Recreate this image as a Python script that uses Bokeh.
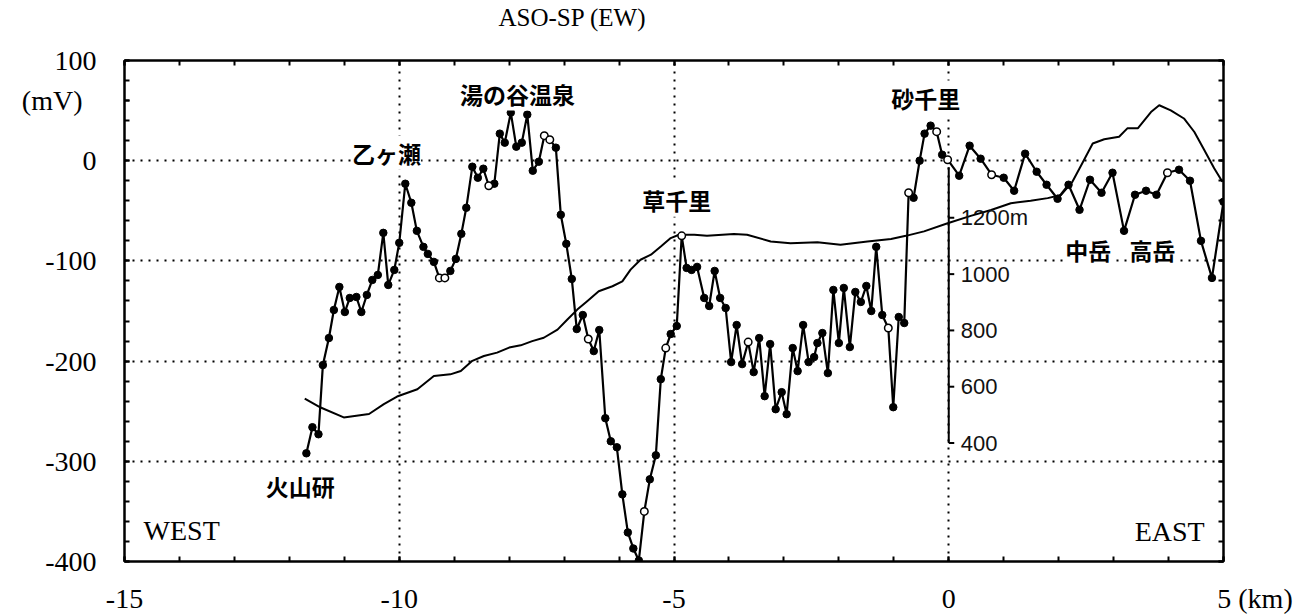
from bokeh.plotting import figure
from bokeh.models import Range1d, LinearAxis, FixedTicker, Label
from bokeh.core.properties import value
from bokeh.embed import file_html
from bokeh.resources import INLINE

# ---------------- data ----------------
# self-potential profile (km, mV)
x_km = [-11.69, -11.58, -11.47, -11.39, -11.28, -11.19, -11.09, -10.99, -10.90, -10.78,
        -10.69, -10.59, -10.49, -10.39, -10.29, -10.20, -10.09, -10.00, -9.89, -9.78,
        -9.68, -9.56, -9.48, -9.37, -9.27, -9.17, -9.07, -8.97, -8.87, -8.78,
        -8.67, -8.57, -8.47, -8.37, -8.27, -8.17, -8.08, -7.97, -7.87, -7.77,
        -7.67, -7.57, -7.46, -7.36, -7.26, -7.15, -7.06, -6.96, -6.86, -6.77,
        -6.66, -6.56, -6.46, -6.36, -6.25, -6.15, -6.04, -5.94, -5.84, -5.74,
        -5.64, -5.54, -5.44, -5.33, -5.24, -5.15, -5.06, -4.95, -4.86, -4.77,
        -4.68, -4.58, -4.45, -4.36, -4.26, -4.16, -4.06, -3.96, -3.86, -3.76,
        -3.65, -3.55, -3.45, -3.35, -3.25, -3.15, -3.04, -2.95, -2.84, -2.75,
        -2.65, -2.55, -2.45, -2.39, -2.30, -2.20, -2.10, -2.00, -1.91, -1.80,
        -1.70, -1.60, -1.50, -1.41, -1.32, -1.21, -1.10, -1.01, -0.91, -0.81,
        -0.73, -0.64, -0.53, -0.44, -0.33, -0.22, -0.12, -0.02, 0.19, 0.38,
        0.58, 0.78, 1.00, 1.19, 1.39, 1.60, 1.78, 1.98, 2.18, 2.38,
        2.57, 2.78, 2.98, 3.19, 3.39, 3.59, 3.78, 3.98, 4.19, 4.39,
        4.59, 4.79, 5.00]
sp_mv = [-292, -266, -273, -204, -177, -149, -126, -151, -137, -136,
         -151, -134, -119, -114, -72, -124, -109, -82, -23, -42,
         -70, -86, -93, -101, -117, -117, -110, -98, -73, -47,
         -6, -17, -8, -25, -23, 27, 18, 48, 14, 18,
         46, -10, -1, 25, 21, 13, -54, -83, -118, -168,
         -154, -178, -190, -169, -257, -280, -286, -333, -371, -387,
         -399, -350, -318, -294, -218, -187, -173, -165, -75, -107,
         -109, -106, -137, -145, -110, -137, -147, -201, -164, -203,
         -181, -211, -177, -235, -183, -248, -231, -253, -187, -210,
         -164, -201, -196, -182, -172, -212, -129, -182, -127, -186,
         -131, -141, -125, -150, -86, -154, -167, -246, -156, -162,
         -32, -37, 0, 27, 35, 29, 6, 1, -15, 15,
         2, -14, -17, -30, 7, -11, -24, -38, -24, -49,
         -19, -32, -12, -70, -34, -30, -34, -12, -9, -20,
         -80, -117, -41]
# 1 = open (hollow) marker, 0 = filled
open_marker = [0, 0, 0, 0, 0, 0, 0, 0, 0, 0,
               0, 0, 0, 0, 0, 0, 0, 0, 0, 0,
               0, 0, 0, 0, 1, 1, 0, 0, 0, 0,
               0, 0, 0, 1, 0, 0, 0, 0, 0, 0,
               0, 0, 0, 1, 1, 0, 0, 0, 0, 0,
               0, 1, 0, 0, 0, 0, 0, 0, 0, 0,
               0, 1, 0, 0, 0, 1, 0, 0, 1, 0,
               0, 0, 0, 0, 0, 0, 0, 0, 0, 0,
               1, 0, 0, 0, 0, 0, 0, 0, 0, 0,
               0, 0, 0, 0, 0, 0, 0, 0, 0, 0,
               0, 0, 0, 0, 0, 0, 1, 0, 0, 0,
               1, 0, 0, 0, 0, 1, 0, 1, 0, 0,
               0, 1, 0, 0, 0, 0, 0, 0, 0, 0,
               0, 0, 0, 0, 0, 0, 0, 1, 0, 0,
               0, 0, 0]

# topographic profile (km, m)
elev_x = [-11.72, -11.43, -11.01, -10.55, -10.28, -10.04, -9.67, -9.37, -9.07, -8.88,
          -8.67, -8.46, -8.22, -8.00, -7.79, -7.58, -7.37, -7.12, -6.94, -6.76,
          -6.58, -6.37, -6.12, -5.94, -5.79, -5.61, -5.42, -5.24, -5.06, -4.91,
          -4.63, -4.40, -3.91, -3.67, -3.24, -2.88, -2.39, -1.97, -1.48, -1.05,
          -0.78, -0.45, -0.02, 0.40, 0.77, 1.13, 1.49, 1.80, 2.04, 2.25,
          2.43, 2.62, 2.83, 3.10, 3.25, 3.44, 3.68, 3.83, 4.04, 4.28,
          4.47, 4.65, 4.83, 4.98]
elev_m = [558, 526, 491, 503, 538, 565, 591, 638, 644, 656,
          692, 709, 721, 739, 747, 762, 774, 803, 839, 874,
          904, 939, 957, 974, 1016, 1051, 1069, 1098, 1128, 1140,
          1140, 1136, 1143, 1140, 1116, 1110, 1113, 1104, 1116, 1125,
          1136, 1152, 1181, 1207, 1228, 1252, 1261, 1270, 1281, 1328,
          1394, 1464, 1479, 1488, 1518, 1518, 1576, 1600, 1582, 1553,
          1505, 1441, 1376, 1328]

x_ticks = [-15, -10, -5, 0, 5]
x_tick_labels = ["-15", "-10", "-5", "0", "\u00a0" * 9 + "5 (km)"]
y_ticks = [-400, -300, -200, -100, 0, 100]
y_tick_labels = ["-400", "-300", "-200", "-100", "0", "100"]
y_unit_pos = 60
y_unit_label = "(mV)" + "\u00a0" * 2
elev_ticks = [400, 600, 800, 1000, 1200]
elev_tick_labels = ["400", "600", "800", "1000", "1200m"]
elev_axis_span = [400, 1380]
elev_axis_x = 0

place_names = ["火山研", "乙ヶ瀬", "湯の谷温泉", "草千里", "砂千里", "中岳", "高岳"]
place_x = [-11.8, -10.23, -7.85, -4.95, -0.42, 2.54, 3.71]
place_y = [-325, 8, 67, -39, 63, -89, -89]

title_text = "ASO-SP (EW)"

# ---------------- figure ----------------
SERIF = "Liberation Serif"
p = figure(width=1315, height=616, output_backend="svg", toolbar_location=None,
           x_range=Range1d(-15, 5), y_range=Range1d(-400, 100),
           min_border_left=124, min_border_right=92, min_border_top=60,
           min_border_bottom=53)
p.extra_y_ranges = {"elev": Range1d(-21, 1759)}
p.background_fill_color = "white"
p.border_fill_color = "white"
p.outline_line_color = "black"
p.outline_line_width = 2

p.title.text = title_text
p.title.text_font = SERIF
p.title.text_font_size = "25px"
p.title.text_font_style = "normal"
p.title.text_color = "black"
p.title.align = "left"
p.title.offset = 374
p.title.vertical_align = "top"
p.title.standoff = 7

xax = p.xaxis[0]
yax = p.yaxis[0]
xax.ticker = FixedTicker(ticks=x_ticks, minor_ticks=list(range(-15, 6)))
xax.major_label_overrides = dict(zip(x_ticks, x_tick_labels))
yax.ticker = FixedTicker(ticks=y_ticks + [y_unit_pos], minor_ticks=list(range(-400, 101, 20)))
yax.major_label_overrides = {**dict(zip(y_ticks, y_tick_labels)), y_unit_pos: y_unit_label}
for ax in (xax, yax):
    ax.major_tick_in = 5
    ax.major_tick_out = 0
    ax.minor_tick_in = 5
    ax.minor_tick_out = 0
    ax.axis_line_width = 2
    ax.major_tick_line_width = 2
    ax.minor_tick_line_width = 2
    ax.major_label_text_font = SERIF
    ax.major_label_text_font_size = "28px"
    ax.major_label_text_color = "black"
xax.major_label_standoff = 21
yax.major_label_standoff = 28

# mirrored tick axes (blank labels)
top = LinearAxis(ticker=FixedTicker(ticks=x_ticks, minor_ticks=list(range(-15, 6))))
right = LinearAxis(ticker=FixedTicker(ticks=y_ticks, minor_ticks=list(range(-400, 101, 20))))
top.major_label_overrides = {t: "\u00a0" for t in x_ticks}
right.major_label_overrides = {t: "" for t in y_ticks}
for ax in (top, right):
    ax.major_tick_in = 5
    ax.major_tick_out = 0
    ax.minor_tick_in = 5
    ax.minor_tick_out = 0
    ax.major_tick_line_width = 2
    ax.minor_tick_line_width = 2
    ax.axis_line_width = 2
    ax.major_label_standoff = 0
    ax.major_label_text_font_size = "1px"
top.major_label_text_font_size = "19px"
top.major_label_standoff = 0
p.add_layout(top, "above")
p.add_layout(right, "right")

p.xgrid.ticker = FixedTicker(ticks=[-10, -5, 0])
p.ygrid.ticker = FixedTicker(ticks=[-300, -200, -100, 0])
for g in (p.xgrid[0], p.ygrid[0]):
    g.grid_line_color = "black"
    g.grid_line_width = 2
    g.grid_line_dash = "2 6"
    g.grid_line_alpha = 1.0

# elevation profile and its axis
p.line(elev_x, elev_m, y_range_name="elev", line_color="black", line_width=2)
p.segment(x0=[elev_axis_x], y0=[elev_axis_span[0]], x1=[elev_axis_x], y1=[elev_axis_span[1]],
          y_range_name="elev", line_color="black", line_width=2)
p.segment(x0=[elev_axis_x] * len(elev_ticks), y0=elev_ticks,
          x1=[elev_axis_x + 0.1] * len(elev_ticks), y1=elev_ticks,
          y_range_name="elev", line_color="black", line_width=2)
p.text(x=[elev_axis_x] * len(elev_ticks), y=elev_ticks, text=elev_tick_labels,
       y_range_name="elev", x_offset=12, text_align="left", text_baseline="middle",
       text_font=value("Liberation Sans"), text_font_size="22px", text_color="#111111")

# SP profile
p.line(x_km, sp_mv, line_color="black", line_width=2.2)
fx = [x for x, o in zip(x_km, open_marker) if not o]
fy = [y for y, o in zip(sp_mv, open_marker) if not o]
ox = [x for x, o in zip(x_km, open_marker) if o]
oy = [y for y, o in zip(sp_mv, open_marker) if o]
p.scatter(fx, fy, size=7.5, marker="circle", fill_color="black", line_color="black")
p.scatter(ox, oy, size=7.5, marker="circle", fill_color="white", line_color="black", line_width=1.5)

# place names
for name, xx, yy in zip(place_names, place_x, place_y):
    p.add_layout(Label(x=xx, y=yy, text=name, text_align="center", text_baseline="middle",
                       text_font="Noto Sans CJK JP", text_font_style="bold",
                       text_font_size="23px", text_color="black",
                       background_fill_color="white"))

# direction labels
p.add_layout(Label(x=-13.96, y=-369, text="WEST", text_align="center", text_baseline="middle",
                   text_font=SERIF, text_font_size="28px", text_color="black"))
p.add_layout(Label(x=4.02, y=-370, text="EAST", text_align="center", text_baseline="middle",
                   text_font=SERIF, text_font_size="28px", text_color="black"))

open("out.html", "w").write(file_html(p, INLINE))
